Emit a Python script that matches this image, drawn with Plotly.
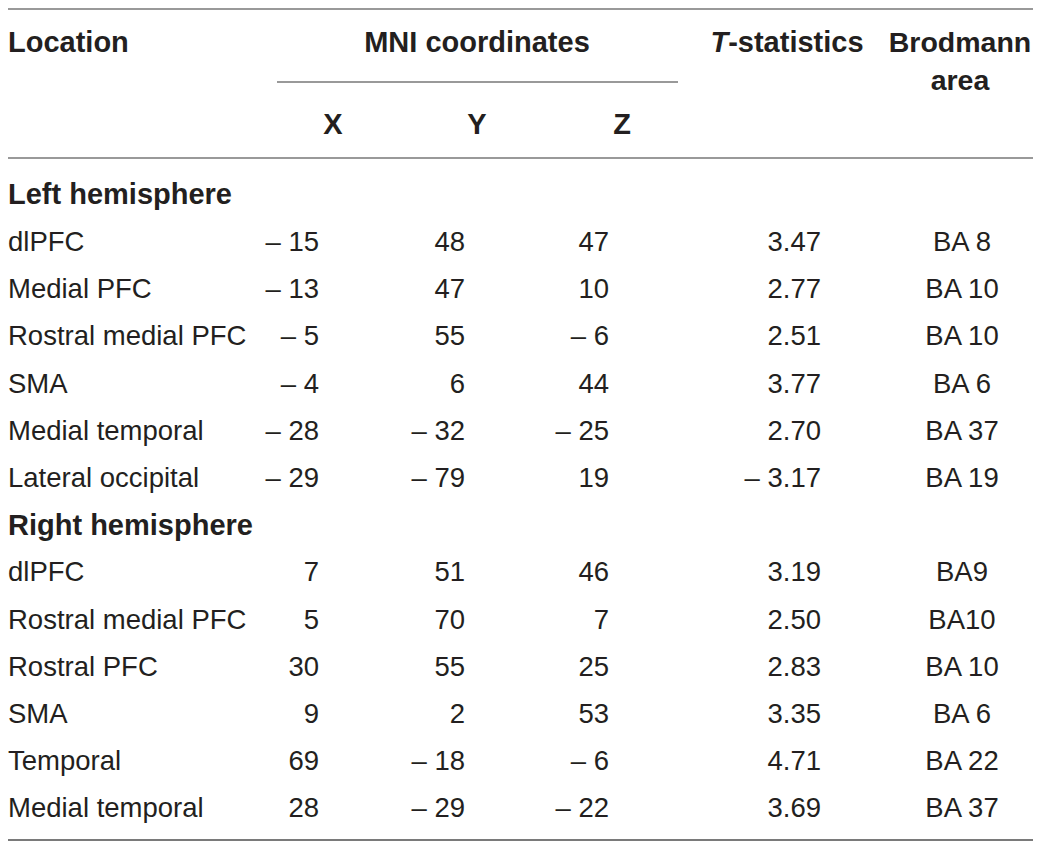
import plotly.graph_objects as go

# Table values
left_regions = ["dlPFC", "Medial PFC", "Rostral medial PFC", "SMA", "Medial temporal", "Lateral occipital"]
left_x = [-15, -13, -5, -4, -28, -29]
left_y = [48, 47, 55, 6, -32, -79]
left_z = [47, 10, -6, 44, -25, 19]
left_t = [3.47, 2.77, 2.51, 3.77, 2.70, -3.17]
left_ba = ["BA 8", "BA 10", "BA 10", "BA 6", "BA 37", "BA 19"]

right_regions = ["dlPFC", "Rostral medial PFC", "Rostral PFC", "SMA", "Temporal", "Medial temporal"]
right_x = [7, 5, 30, 9, 69, 28]
right_y = [51, 70, 55, 2, -18, -29]
right_z = [46, 7, 25, 53, -6, -22]
right_t = [3.19, 2.50, 2.83, 3.35, 4.71, 3.69]
right_ba = ["BA9", "BA10", "BA 10", "BA 6", "BA 22", "BA 37"]

groups = ["Left hemisphere", "Right hemisphere"]

OFF = 8  # page body margin: axis units are screen pixels of the window
W, H = 1041 - 2 * OFF, 850 - 2 * OFF
FONT = "Liberation Sans"
INK = "#231f20"
RULE = "#999999"
DY = 3  # plotly's "middle" sits a little high

# column anchors (screen pixels)
col_loc = 8
col_x, col_y, col_z, col_t, col_ba = 319, 465, 609, 821, 962
row0, row_h = 194, 47.2


def fmt_int(v):
    return f"– {abs(v)}" if v < 0 else str(v)


def fmt_t(v):
    return f"– {abs(v):.2f}" if v < 0 else f"{v:.2f}"


# build rows: group header + its data lines
rows = []
for name, reg, xs, ys, zs, ts, bas in [
    (groups[0], left_regions, left_x, left_y, left_z, left_t, left_ba),
    (groups[1], right_regions, right_x, right_y, right_z, right_t, right_ba),
]:
    rows.append(("group", name))
    for i in range(len(reg)):
        rows.append(("data", (reg[i], xs[i], ys[i], zs[i], ts[i], bas[i])))

group_y, group_txt = [], []
loc_y, loc_txt, xv, yv, zv, tv, bav = [], [], [], [], [], [], []
for k, (kind, item) in enumerate(rows):
    yy = row0 + k * row_h
    if kind == "group":
        group_y.append(yy)
        group_txt.append(f"<b>{item}</b>")
    else:
        loc_y.append(yy)
        loc_txt.append(item[0])
        xv.append(fmt_int(item[1]))
        yv.append(fmt_int(item[2]))
        zv.append(fmt_int(item[3]))
        tv.append(fmt_t(item[4]))
        bav.append(item[5])

fig = go.Figure()


def add_text(xpos, ypos, texts, pos, size=27.5):
    fig.add_trace(go.Scatter(
        x=[xpos] * len(ypos) if not isinstance(xpos, list) else xpos,
        y=[v + DY for v in ypos],
        text=texts,
        mode="text",
        textposition=pos,
        textfont=dict(family=FONT, size=size, color=INK),
        hoverinfo="skip",
        showlegend=False,
        cliponaxis=False,
    ))


# header
HB = 29
add_text(8, [42], ["<b>Location</b>"], "middle right", HB)
add_text(477, [42], ["<b>MNI coordinates</b>"], "middle center", HB)
add_text(787, [42], ["<b><i>T</i>-statistics</b>"], "middle center", HB)
add_text(960, [42, 80], ["<b>Brodmann</b>", "<b>area</b>"], "middle center", 28.5)
add_text([333, 477, 622], [124, 124, 124], ["<b>X</b>", "<b>Y</b>", "<b>Z</b>"], "middle center", HB)

# body
add_text(8, group_y, group_txt, "middle right", HB)
add_text(col_loc, loc_y, loc_txt, "middle right")
add_text(col_x, loc_y, xv, "middle left")
add_text(col_y, loc_y, yv, "middle left")
add_text(col_z, loc_y, zv, "middle left")
add_text(col_t, loc_y, tv, "middle left")
add_text(col_ba, loc_y, bav, "middle center")

# rules
shapes = [
    dict(type="line", x0=OFF, x1=1033, y0=9, y1=9),
    dict(type="line", x0=277, x1=678, y0=82, y1=82),
    dict(type="line", x0=OFF, x1=1033, y0=158, y1=158),
    dict(type="line", x0=OFF, x1=1033, y0=840, y1=840, line=dict(color="#7a7a7a", width=2)),
]
for s in shapes:
    s.update(xref="x", yref="y")
    s.setdefault("line", dict(color=RULE, width=2))

fig.update_layout(
    width=W, height=H,
    margin=dict(l=0, r=0, t=0, b=0),
    paper_bgcolor="white", plot_bgcolor="white",
    xaxis=dict(range=[OFF, OFF + W], visible=False, fixedrange=True),
    yaxis=dict(range=[OFF + H, OFF], visible=False, fixedrange=True),
    shapes=shapes,
)

fig.write_html("out.html")
